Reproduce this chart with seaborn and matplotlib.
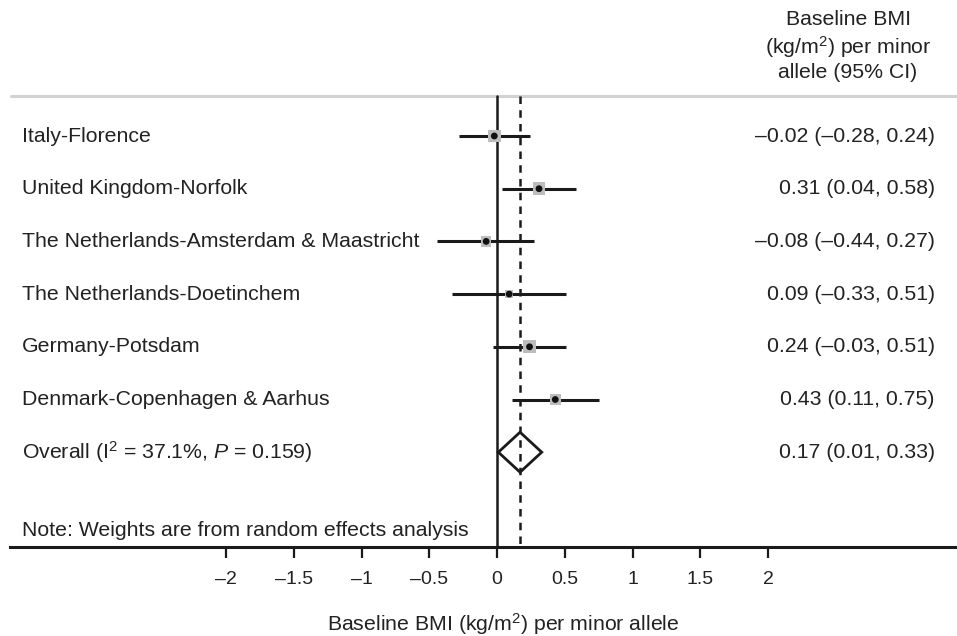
import matplotlib
matplotlib.use("Agg")
import matplotlib.pyplot as plt
from matplotlib.patches import Polygon
from matplotlib.ticker import FixedLocator, FixedFormatter
import seaborn as sns
import pandas as pd

# ---------------- data ----------------
studies = ["Italy-Florence", "United Kingdom-Norfolk",
           "The Netherlands-Amsterdam & Maastricht", "The Netherlands-Doetinchem",
           "Germany-Potsdam", "Denmark-Copenhagen & Aarhus"]
estimates = [-0.02, 0.31, -0.08, 0.09, 0.24, 0.43]
lower = [-0.28, 0.04, -0.44, -0.33, -0.03, 0.11]
upper = [0.24, 0.58, 0.27, 0.51, 0.51, 0.75]
weights = [20.0, 20.0, 14.0, 8.0, 20.0, 16.0]
ci_labels = ["\u20130.02 (\u20130.28, 0.24)", "0.31 (0.04, 0.58)",
             "\u20130.08 (\u20130.44, 0.27)", "0.09 (\u20130.33, 0.51)",
             "0.24 (\u20130.03, 0.51)", "0.43 (0.11, 0.75)"]
overall_est = 0.17
overall_lo = 0.01
overall_hi = 0.33
overall_label = "Overall (I$^2$ = 37.1%, $\\mathit{P}$ = 0.159)"
overall_ci_label = "0.17 (0.01, 0.33)"
xticks = [-2, -1.5, -1, -0.5, 0, 0.5, 1, 1.5, 2]
xtick_labels = ["\u20132", "\u20131.5", "\u20131", "\u20130.5", "0", "0.5", "1", "1.5", "2"]
note = "Note: Weights are from random effects analysis"
header = "Baseline BMI\n(kg/m$^2$) per minor\nallele (95% CI)"
xlabel = "Baseline BMI (kg/m$^2$) per minor allele"

# ---------------- style ----------------
sns.set_theme(style="white")
plt.rcParams["font.family"] = ["Liberation Sans", "DejaVu Sans"]
plt.rcParams["mathtext.fontset"] = "custom"
plt.rcParams["mathtext.rm"] = "Liberation Sans"
plt.rcParams["mathtext.it"] = "Liberation Sans:italic"
plt.rcParams["mathtext.default"] = "regular"

FS = 15.3
TXT = "#222222"
W, H = 957, 636
PX = 135.5          # pixels per unit
X0 = 497            # pixel of x = 0

fig = plt.figure(figsize=(W / 100, H / 100), dpi=100)
ax = fig.add_axes([0, 0, 1, 1])
ax.set_xlim(-X0 / PX, (W - X0) / PX)
ax.set_ylim(H, 0)

def px(xp):
    return (xp - X0) / PX

row0, step = 136, 52.7
ys = [row0 + i * step for i in range(len(studies))]
y_over = row0 + len(studies) * step
y_top, y_axis = 96, 547

df = pd.DataFrame({"study": studies, "est": estimates, "lo": lower, "hi": upper,
                   "w": weights, "y": ys})

# reference lines
ax.plot([0, 0], [y_top, y_axis], color="#1a1a1a", lw=1.8, zorder=2)
ax.plot([overall_est, overall_est], [y_top, y_axis], color="#1a1a1a", lw=1.8,
        ls=(0, (3, 2.5)), zorder=2)

# top separator
ax.plot([px(11), px(W)], [y_top, y_top], color="#d2d2d2", lw=2.2, zorder=1)

# CIs
ax.hlines(df["y"], df["lo"], df["hi"], color="#1a1a1a", lw=2.2, zorder=3)

# weight boxes and point estimates
sns.scatterplot(data=df, x="est", y="y", size="w", sizes=(30, 85), marker="s",
                color="#bdbdbd", edgecolor="none", legend=False, ax=ax, zorder=4)
sns.scatterplot(data=df, x="est", y="y", marker="o", s=24, color="#111111",
                edgecolor="none", legend=False, ax=ax, zorder=5)

# overall diamond
dh = 20
ax.add_patch(Polygon([(overall_lo, y_over), (overall_est, y_over - dh),
                      (overall_hi, y_over), (overall_est, y_over + dh)],
                     closed=True, fill=False, edgecolor="#1a1a1a", lw=2, zorder=6))

# texts
for s, y, lab in zip(studies, ys, ci_labels):
    ax.text(px(22), y, s, fontsize=FS, va="center", ha="left", color=TXT)
    ax.text(px(935), y, lab, fontsize=FS, va="center", ha="right", color=TXT)
ax.text(px(22), y_over, overall_label, fontsize=FS, va="center", ha="left", color=TXT)
ax.text(px(935), y_over, overall_ci_label, fontsize=FS, va="center", ha="right", color=TXT)
ax.text(px(22), 531, note, fontsize=FS, va="center", ha="left", color=TXT)
ax.text(px(848), 46, header, fontsize=FS, va="center", ha="center",
        multialignment="center", linespacing=1.25, color=TXT)
ax.text(0.05, 624, xlabel, fontsize=FS, va="center", ha="center", color=TXT)

# x axis
for side in ["top", "left", "right"]:
    ax.spines[side].set_visible(False)
sp = ax.spines["bottom"]
sp.set_visible(True)
sp.set_position(("data", y_axis))
sp.set_bounds(px(10), px(W))
sp.set_linewidth(2.2)
sp.set_color("#1a1a1a")
ax.xaxis.set_major_locator(FixedLocator(xticks))
ax.xaxis.set_major_formatter(FixedFormatter(xtick_labels))
ax.tick_params(axis="x", bottom=True, direction="out", length=8, width=1.6,
               color="#1a1a1a", labelsize=14, pad=9, labelcolor=TXT)
ax.set_yticks([])
ax.set_xlabel("")
ax.set_ylabel("")
ax.set_facecolor("white")

fig.savefig("out.png", dpi=100, facecolor="white")
